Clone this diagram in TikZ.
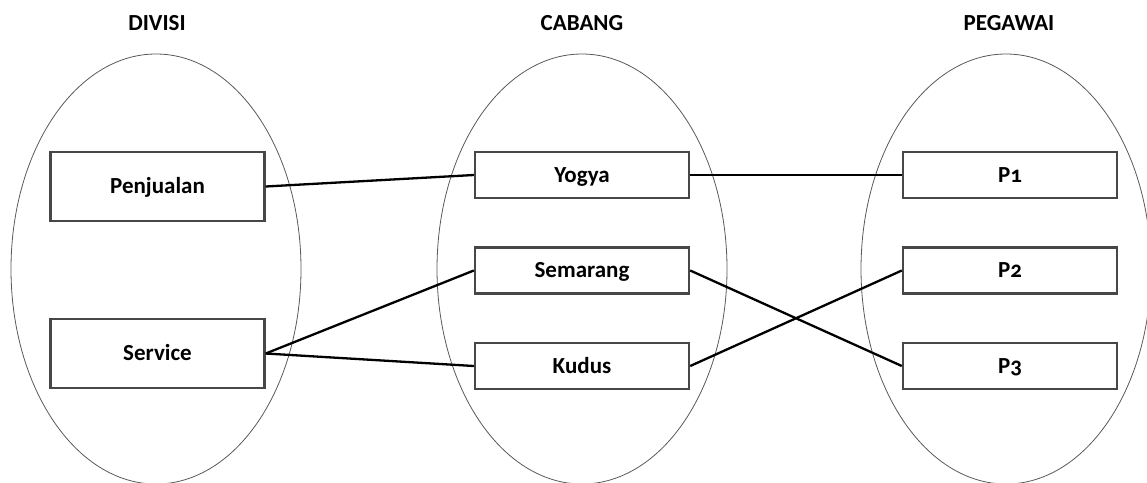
\documentclass[tikz,border=0pt]{standalone}
\usepackage{fontspec}
\setmainfont{Carlito}[Numbers=OldStyle]
\usetikzlibrary{shapes.geometric}
\begin{document}
\begin{tikzpicture}[x=1pt,y=-1pt,
  group/.style={ellipse, draw=black!65, line width=0.8pt, inner sep=0pt,
                minimum width=290pt, minimum height=430pt},
  item/.style={rectangle, draw=black!72, line width=2.4pt, fill=white,
               minimum width=214pt, font=\bfseries\fontsize{23}{27}\selectfont,
               text height=14.8pt, text depth=0pt},
  tall/.style={item, minimum height=69pt},
  short/.style={item, minimum height=46pt},
  head/.style={font=\bfseries\fontsize{23}{27}\selectfont, inner sep=0pt},
  link/.style={line width=2.3pt, black}]
\useasboundingbox (0,0) rectangle (1147,482);

% set outlines
\node[group] (gdiv) at (156,269) {};
\node[group] (gcab) at (582,269) {};
\node[group] (gpeg) at (1006,269) {};

% headings
\node[head] (hdiv) at (157,23) {DIVISI};
\node[head] (hcab) at (582,23) {CABANG};
\node[head] (hpeg) at (1009,23) {PEGAWAI};

% boxes
\node[tall]  (pen) at (157.5,186.5) {Penjualan};
\node[tall]  (ser) at (157.5,353.5) {Service};
\node[short] (yog) at (582,175)   {Yogya};
\node[short] (sem) at (582,270.5) {Semarang};
\node[short] (kud) at (582,366)   {Kudus};
\node[short] (p1)  at (1010,175)   {P1};
\node[short] (p2)  at (1010,270.5) {P2};
\node[short] (p3)  at (1010,366)   {P3};

% relations
\draw[link] (pen.east) -- (yog.west);
\draw[link] (yog.east) -- (p1.west);
\draw[link] (ser.east) -- (sem.west);
\draw[link] (ser.east) -- (kud.west);
\draw[link] (sem.east) -- (p3.west);
\draw[link] (kud.east) -- (p2.west);
\end{tikzpicture}
\end{document}
